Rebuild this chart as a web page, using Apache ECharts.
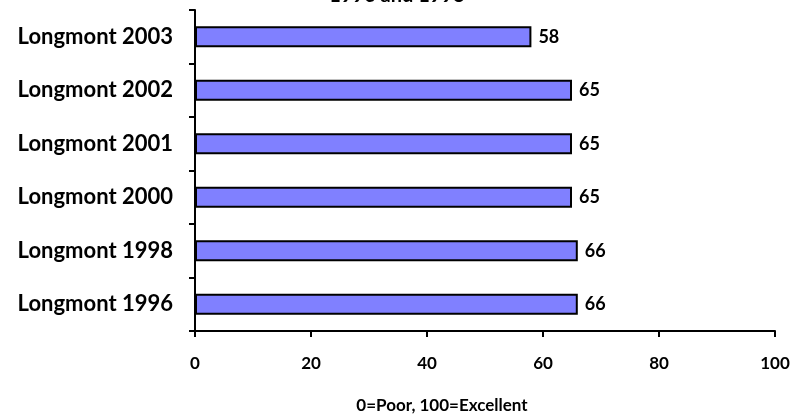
<!DOCTYPE html>
<html>
<head>
<meta charset="utf-8">
<script src="https://cdn.jsdelivr.net/npm/echarts@6/dist/echarts.min.js"></script>
<style>html,body{margin:0;padding:0;background:#fff}#c{width:794px;height:419px}</style>
</head>
<body>
<div id="c"></div>
<script>
const categories = ["Longmont 2003", "Longmont 2002", "Longmont 2001", "Longmont 2000", "Longmont 1998", "Longmont 1996"];
const values = [58, 65, 65, 65, 66, 66];
const xTicks = [0, 20, 40, 60, 80, 100];
const titleText = "1996 and 1998";
const axisName = "0=Poor, 100=Excellent";

const chart = echarts.init(document.getElementById('c'), null, {renderer: 'canvas'});
const font = 'Lato';
chart.setOption({
  animation: false,
  backgroundColor: '#fff',
  title: {
    text: titleText, left: 'center', top: -19,
    textStyle: {fontFamily: font, fontWeight: 'bold', fontSize: 20, color: '#000'}
  },
  grid: {left: 195, right: 19, top: 10, bottom: 86, containLabel: false},
  xAxis: {
    type: 'value', min: 0, max: 100, interval: 20,
    name: axisName, nameLocation: 'middle', nameGap: 66,
    nameTextStyle: {fontFamily: font, fontWeight: 'bold', fontSize: 17, color: '#000', padding: [0, 86, 0, 0]},
    axisLine: {show: true, lineStyle: {color: '#000', width: 2}},
    axisTick: {show: true, length: 6, lineStyle: {color: '#000', width: 2}},
    axisLabel: {fontFamily: font, fontWeight: 'bold', fontSize: 17, color: '#000', margin: 24,
      formatter: v => xTicks.includes(v) ? String(v) : ''},
    splitLine: {show: false}
  },
  yAxis: {
    type: 'category', data: categories, inverse: true,
    axisLine: {show: true, lineStyle: {color: '#000', width: 2}},
    axisTick: {show: true, length: 6, lineStyle: {color: '#000', width: 2}},
    axisLabel: {fontFamily: font, fontWeight: 'bold', fontSize: 22, color: '#000', margin: 22}
  },
  series: [{
    type: 'bar', data: values, barWidth: 21,
    itemStyle: {color: '#8080FF', borderColor: '#000', borderWidth: 2},
    label: {show: true, position: 'right', distance: 7, fontFamily: font, fontWeight: 'bold', fontSize: 18, color: '#000'}
  }]
});
</script>
</body>
</html>
